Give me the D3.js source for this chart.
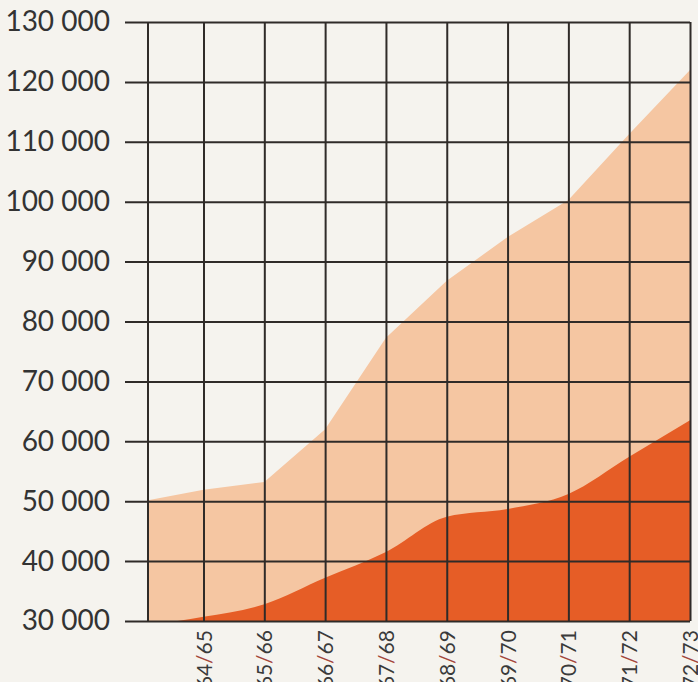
<!DOCTYPE html>
<html>
<head>
<meta charset="utf-8">
<script src="https://cdn.jsdelivr.net/npm/d3@7"></script>
<style>
  html, body { margin: 0; padding: 0; background: #f5f3ee; }
  svg { display: block; }
</style>
</head>
<body>
<script>
// Fiscal years; the first one sits just left of the plot edge and is clipped.
const periods = ["63/64", "64/65", "65/66", "66/67", "67/68", "68/69", "69/70", "70/71", "71/72", "72/73"];
// Upper (light) band: total
const totalValues = [50000, 51900, 53200, 62000, 77300, 86800, 94100, 100300, 111300, 122000];
// Lower (dark) band
const partValues = [29200, 30700, 32800, 37200, 41500, 47400, 48700, 51200, 57400, 63500];
// Y tick values
const yTicks = [30000, 40000, 50000, 60000, 70000, 80000, 90000, 100000, 110000, 120000, 130000];

const W = 698, H = 682;
const plot = { left: 148, right: 690, top: 22, bottom: 621, tickStart: 125 };

const svg = d3.select("body").append("svg")
  .attr("width", W).attr("height", H);

const x = d3.scaleLinear().domain([1, 9]).range([203.5, plot.right]);
const y = d3.scaleLinear().domain([30000, 130000]).range([plot.bottom, plot.top]);

svg.append("defs").append("clipPath").attr("id", "plot-clip")
  .append("rect")
  .attr("x", plot.left).attr("y", plot.top)
  .attr("width", plot.right - plot.left).attr("height", plot.bottom - plot.top);

const areaG = svg.append("g").attr("clip-path", "url(#plot-clip)");

const totalArea = d3.area()
  .x((d, i) => x(i))
  .y0(y(30000) + 5)
  .y1(d => y(d))
  .curve(d3.curveLinear);

const partArea = d3.area()
  .x((d, i) => x(i))
  .y0(y(30000) + 5)
  .y1(d => y(d))
  .curve(d3.curveMonotoneX);

areaG.append("path").datum(totalValues)
  .attr("d", totalArea)
  .attr("fill", "#f5c6a2");

areaG.append("path").datum(partValues)
  .attr("d", partArea)
  .attr("fill", "#e65d26");

const gridColor = "#2f2b28";
const locale = d3.formatLocale({ decimal: ",", thousands: " ", grouping: [3], currency: ["", ""] });
const fmt = locale.format(",");

// Y axis with full-width horizontal grid lines
const yAxis = svg.append("g")
  .attr("transform", `translate(${plot.tickStart},0)`)
  .call(d3.axisLeft(y)
    .tickValues(yTicks)
    .tickFormat(fmt)
    .tickSize(-(plot.right - plot.tickStart))
    .tickPadding(15));
yAxis.select(".domain").remove();
yAxis.selectAll(".tick line")
  .attr("stroke", gridColor).attr("stroke-width", 2);
yAxis.selectAll(".tick text")
  .attr("fill", "#333")
  .style("font-family", "Lato, 'Open Sans', sans-serif")
  .style("font-size", "28px");

// X axis with full-height vertical grid lines and rotated labels
const xAxis = svg.append("g")
  .attr("transform", `translate(0,${plot.bottom})`)
  .call(d3.axisBottom(x)
    .tickValues(d3.range(1, periods.length))
    .tickSize(-(plot.bottom - plot.top))
    .tickFormat(i => periods[i]));
xAxis.select(".domain").remove();
xAxis.selectAll(".tick line")
  .attr("stroke", gridColor).attr("stroke-width", 2);
xAxis.selectAll(".tick text").each(function(i) {
  const t = d3.select(this);
  const parts = periods[i].split("/");
  t.text(null)
    .attr("transform", "rotate(-90)")
    .attr("x", -9).attr("y", 0).attr("dy", "0.36em")
    .attr("text-anchor", "end")
    .attr("fill", "#3a3a3a")
    .style("font-family", "Lato, 'Open Sans', sans-serif")
    .style("font-size", "21px");
  t.append("tspan").text(parts[0]);
  t.append("tspan").attr("fill", "#a4473a").text("/");
  t.append("tspan").text(parts[1]);
});

// Left border of the plot
svg.append("line")
  .attr("x1", plot.left).attr("x2", plot.left)
  .attr("y1", plot.top).attr("y2", plot.bottom)
  .attr("stroke", gridColor).attr("stroke-width", 2);
</script>
</body>
</html>
